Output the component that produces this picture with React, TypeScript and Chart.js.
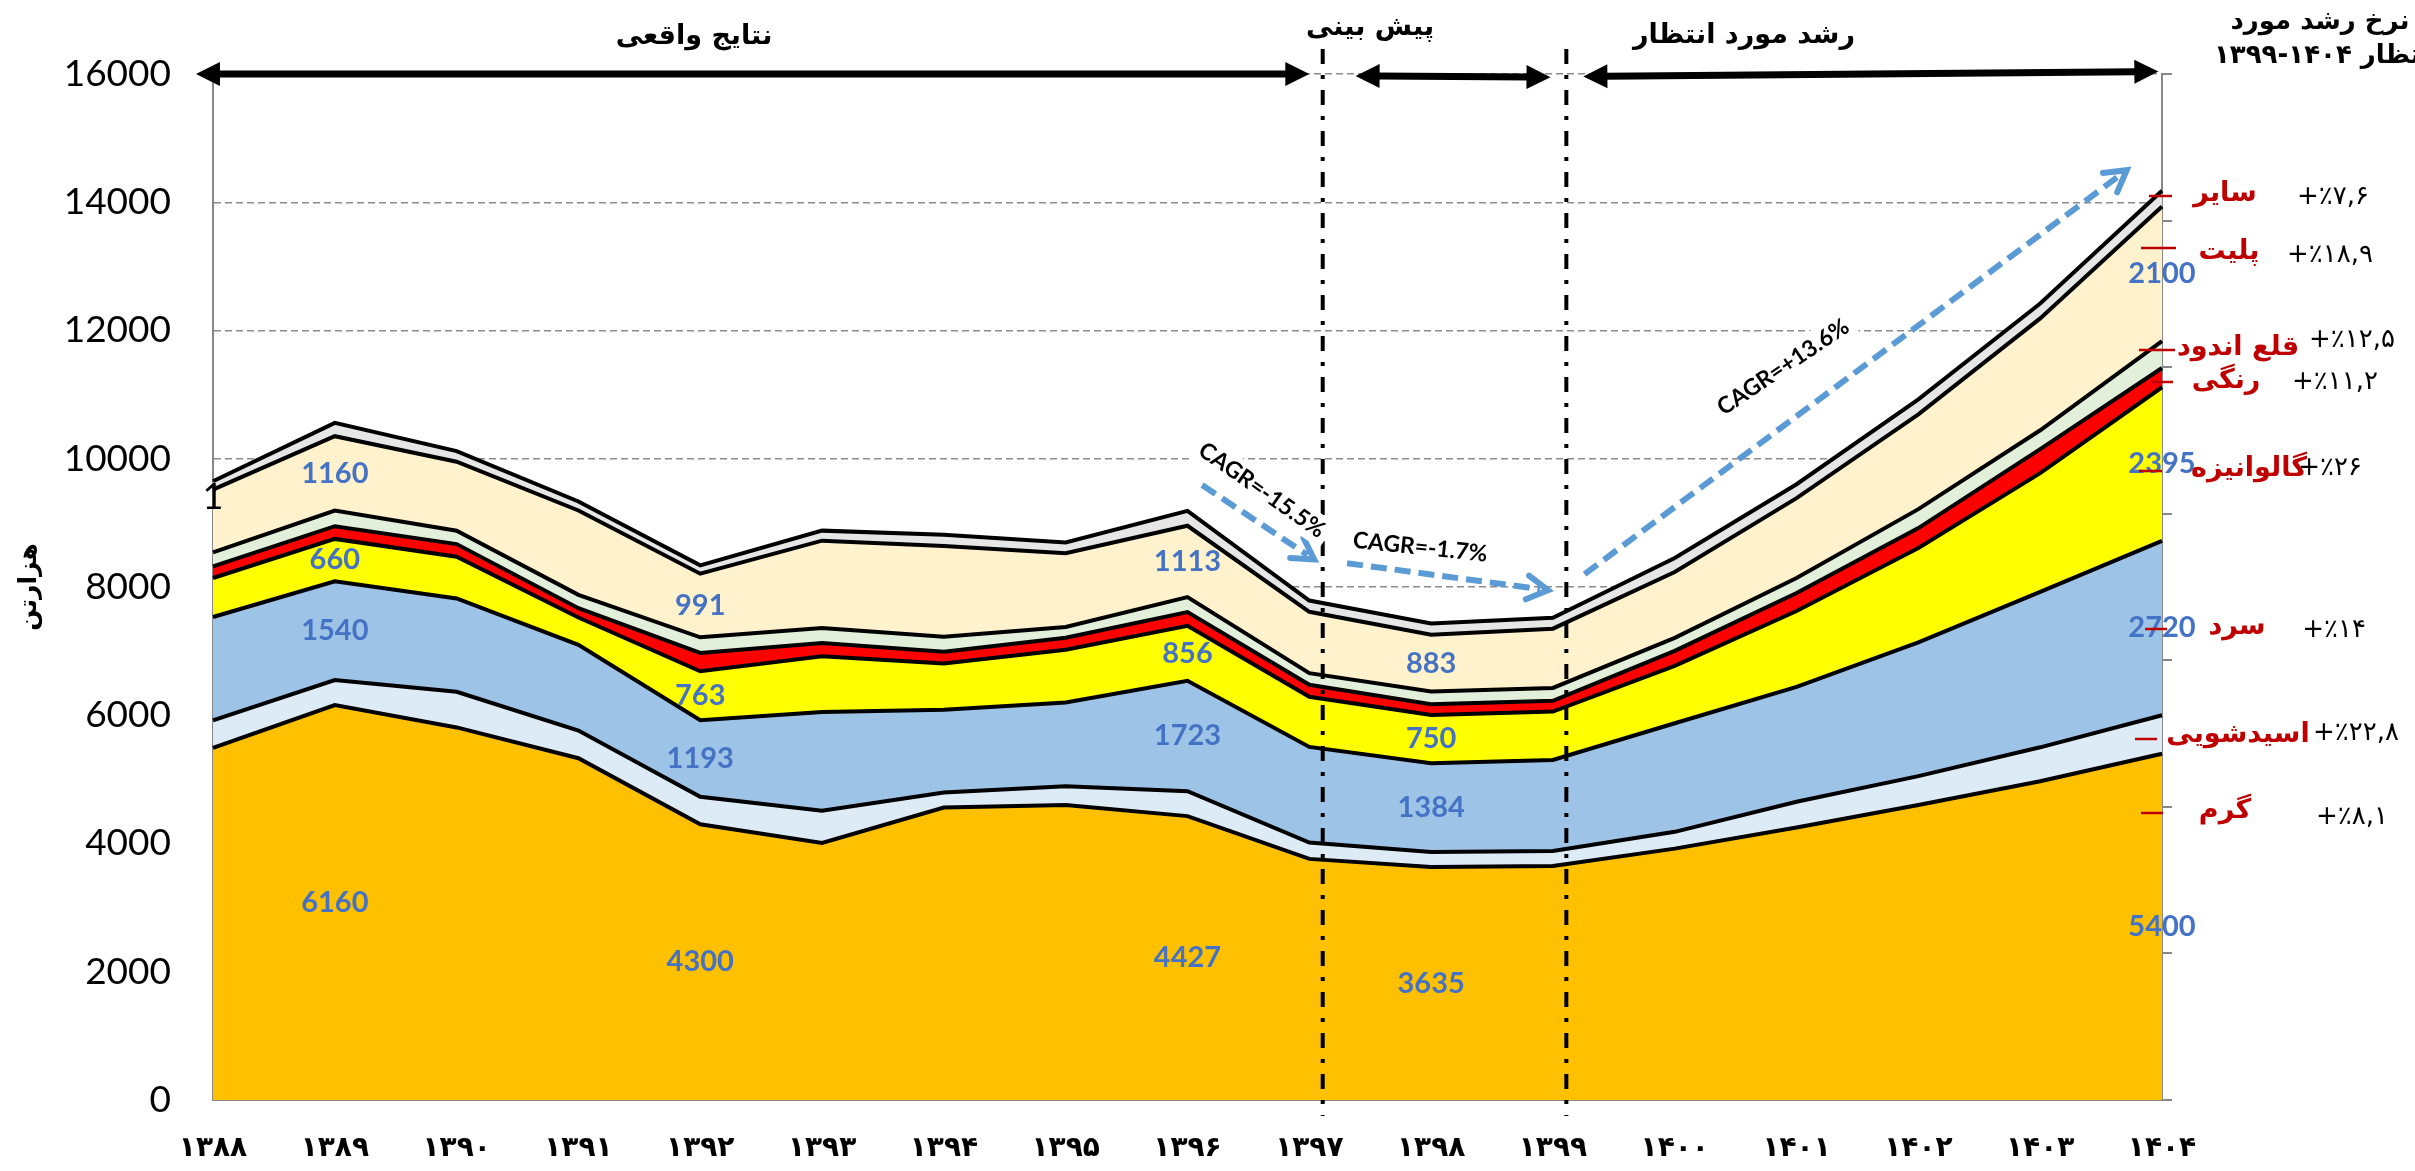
import React, { useEffect, useRef } from 'react';
import { Chart, registerables } from 'chart.js';

Chart.register(...registerables);

const W = 2415;
const H = 1171;

// ---------- data ----------
const years = ['۱۳۸۸', '۱۳۸۹', '۱۳۹۰', '۱۳۹۱', '۱۳۹۲', '۱۳۹۳', '۱۳۹۴', '۱۳۹۵', '۱۳۹۶', '۱۳۹۷', '۱۳۹۸', '۱۳۹۹', '۱۴۰۰', '۱۴۰۱', '۱۴۰۲', '۱۴۰۳', '۱۴۰۴'];
const hot = [5490, 6160, 5810, 5330, 4300, 4010, 4560, 4600, 4427, 3760, 3635, 3650, 3920, 4250, 4600, 4970, 5400];
const acid = [430, 390, 556, 432, 430, 500, 235, 294, 388, 254, 234, 234, 262, 400, 450, 530, 600];
const cold = [1612, 1540, 1455, 1336, 1193, 1540, 1291, 1305, 1723, 1492, 1384, 1418, 1693, 1792, 2086, 2424, 2720];
const galv = [608, 660, 650, 426, 763, 870, 722, 823, 856, 783, 750, 756, 896, 1184, 1471, 1851, 2395];
const colored = [182, 198, 198, 145, 286, 207, 181, 187, 214, 187, 167, 168, 234, 281, 311, 374, 300];
const tin = [218, 244, 208, 208, 244, 234, 234, 167, 234, 181, 201, 200, 202, 233, 296, 295, 420];
const plate = [978, 1160, 1076, 1316, 991, 1362, 1418, 1151, 1113, 956, 883, 924, 1027, 1245, 1479, 1744, 2100];
const other = [130, 208, 166, 140, 130, 156, 174, 167, 233, 176, 177, 171, 218, 218, 233, 233, 245];

const seriesNames = ['گرم', 'اسیدشویی', 'سرد', 'گالوانیزه', 'رنگی', 'قلع اندود', 'پلیت', 'سایر'];
const growthRates = ['+٪۸,۱', '+٪۲۲,۸', '+٪۱۴', '+٪۲۶', '+٪۱۱,۲', '+٪۱۲,۵', '+٪۱۸,۹', '+٪۷,۶'];
const fills = ['#FFC000', '#DDEBF7', '#9DC3E6', '#FFFF00', '#FF0000', '#E2EFDA', '#FFF2CC', '#E7E6E6'];

const yMin = 0;
const yMax = 16000;
const yStep = 2000;

const valueLabelYears = [1, 4, 8, 10, 16];
const valueLabelSeries = [0, 2, 3, 6];

const periodTitles = ['نتایج واقعی', 'پیش بینی', 'رشد مورد انتظار'];
const headerLine1 = 'نرخ رشد مورد';
const headerLine2 = '۱۳۹۹-۱۴۰۴ انتظار';
const yTitle = 'هزارتن';
const cagrTexts = ['CAGR=-15.5%', 'CAGR=-1.7%', 'CAGR=+13.6%'];

// ---------- layout of annotations (positions, not data) ----------
const dividerCats = [9.11, 11.11];
const periodArrows = [
  { c1: -0.14, v1: 16000, c2: 9.0, v2: 16000 },
  { c1: 9.38, v1: 15970, c2: 10.98, v2: 15950 },
  { c1: 11.25, v1: 15960, c2: 15.97, v2: 16040 },
];
const titlePos = [
  { x: 694, y: 37 },
  { x: 1370, y: 28 },
  { x: 1744, y: 36 },
];
const cagrArrows = [
  { from: [8.12, 9590], to: [9.04, 8430], at: [8.61, 9510], angle: 35 },
  { from: [9.31, 8370], to: [10.96, 7950], at: [9.91, 8620], angle: 6 },
  { from: [11.26, 8200], to: [15.71, 14500], at: [12.89, 11430], angle: -34 },
];
const legendLayout = [
  { s: 7, tickY: 196, tx1: 2149, tx2: 2172, lx: 2225, ly: 194, px: 2333, py: 197 },
  { s: 6, tickY: 248, tx1: 2141, tx2: 2176, lx: 2229, ly: 252, px: 2330, py: 255 },
  { s: 5, tickY: 350, tx1: 2139, tx2: 2175, lx: 2238, ly: 348, px: 2352, py: 340 },
  { s: 4, tickY: 382, tx1: 2152, tx2: 2173, lx: 2226, ly: 381, px: 2335, py: 382 },
  { s: 3, tickY: 471, tx1: 2139, tx2: 2162, lx: 2249, ly: 469, px: 2330, py: 468 },
  { s: 2, tickY: 629, tx1: 2145, tx2: 2167, lx: 2237, ly: 627, px: 2334, py: 630 },
  { s: 1, tickY: 739, tx1: 2135, tx2: 2157, lx: 2238, ly: 735, px: 2356, py: 733 },
  { s: 0, tickY: 813, tx1: 2141, tx2: 2163, lx: 2225, ly: 811, px: 2352, py: 817 },
];

const PERSIAN = '"DejaVu Sans", sans-serif';
const LATIN = 'Lato, "DejaVu Sans", sans-serif';

const series = [hot, acid, cold, galv, colored, tin, plate, other];

function blockArrow(ctx: CanvasRenderingContext2D, x1: number, y1: number, x2: number, y2: number) {
  const lw = 7, hl = 24, hw = 12;
  const a = Math.atan2(y2 - y1, x2 - x1);
  const cos = Math.cos(a), sin = Math.sin(a);
  ctx.save();
  ctx.strokeStyle = '#000';
  ctx.fillStyle = '#000';
  ctx.lineWidth = lw;
  ctx.beginPath();
  ctx.moveTo(x1 + cos * (hl - 2), y1 + sin * (hl - 2));
  ctx.lineTo(x2 - cos * (hl - 2), y2 - sin * (hl - 2));
  ctx.stroke();
  const head = (tx: number, ty: number, dir: number) => {
    const bx = tx - Math.cos(dir) * hl, by = ty - Math.sin(dir) * hl;
    ctx.beginPath();
    ctx.moveTo(tx, ty);
    ctx.lineTo(bx - Math.sin(dir) * hw, by + Math.cos(dir) * hw);
    ctx.lineTo(bx + Math.sin(dir) * hw, by - Math.cos(dir) * hw);
    ctx.closePath();
    ctx.fill();
  };
  head(x2, y2, a);
  head(x1, y1, a + Math.PI);
  ctx.restore();
}

function dashedArrow(ctx: CanvasRenderingContext2D, x1: number, y1: number, x2: number, y2: number) {
  const a = Math.atan2(y2 - y1, x2 - x1);
  ctx.save();
  ctx.strokeStyle = '#5B9BD5';
  ctx.lineWidth = 6;
  ctx.setLineDash([16, 8]);
  ctx.beginPath();
  ctx.moveTo(x1, y1);
  ctx.lineTo(x2 - Math.cos(a) * 8, y2 - Math.sin(a) * 8);
  ctx.stroke();
  ctx.setLineDash([]);
  ctx.lineCap = 'round';
  ctx.lineJoin = 'miter';
  const al = 24, sp = Math.PI / 6;
  ctx.beginPath();
  ctx.moveTo(x2 - Math.cos(a - sp) * al, y2 - Math.sin(a - sp) * al);
  ctx.lineTo(x2, y2);
  ctx.lineTo(x2 - Math.cos(a + sp) * al, y2 - Math.sin(a + sp) * al);
  ctx.stroke();
  ctx.restore();
}

const overlay = {
  id: 'overlay',
  afterDraw(chart: any) {
    const ctx: CanvasRenderingContext2D = chart.ctx;
    const xs = chart.scales.x;
    const ys = chart.scales.y;
    const X = (c: number) => xs.getPixelForValue(c);
    const Y = (v: number) => ys.getPixelForValue(v);
    const area = chart.chartArea;

    // dash-dot dividers
    ctx.save();
    ctx.strokeStyle = '#000';
    ctx.lineWidth = 4;
    ctx.setLineDash([15, 11, 4, 11]);
    for (const c of dividerCats) {
      const px = X(c);
      ctx.beginPath();
      ctx.moveTo(px, area.top - 25);
      ctx.lineTo(px, area.bottom + 16);
      ctx.stroke();
    }
    ctx.restore();

    // period arrows
    for (const p of periodArrows) blockArrow(ctx, X(p.c1), Y(p.v1), X(p.c2), Y(p.v2));

    // period titles
    ctx.save();
    ctx.fillStyle = '#000';
    ctx.font = `bold 27px ${PERSIAN}`;
    ctx.textAlign = 'center';
    ctx.textBaseline = 'middle';
    periodTitles.forEach((t, i) => ctx.fillText(t, titlePos[i].x, titlePos[i].y));
    // header (top right)
    ctx.font = `bold 26px ${PERSIAN}`;
    ctx.fillText(headerLine1, 2320, 22);
    ctx.direction = 'ltr';
    ctx.textAlign = 'left';
    ctx.fillText(headerLine2, 2214, 56);
    ctx.restore();

    // CAGR arrows and texts
    cagrArrows.forEach((c) => {
      dashedArrow(ctx, X(c.from[0]), Y(c.from[1]), X(c.to[0]), Y(c.to[1]));
    });
    cagrArrows.forEach((c, i) => {
      ctx.save();
      ctx.translate(X(c.at[0]), Y(c.at[1]));
      ctx.rotate((c.angle * Math.PI) / 180);
      ctx.font = `bold 23px ${LATIN}`;
      const w = ctx.measureText(cagrTexts[i]).width;
      ctx.fillStyle = '#fff';
      ctx.fillRect(-w / 2 - 6, -15, w + 12, 30);
      ctx.fillStyle = '#000';
      ctx.textAlign = 'center';
      ctx.textBaseline = 'middle';
      ctx.fillText(cagrTexts[i], 0, 0);
      ctx.restore();
    });

    // value labels in the middle of the layers
    ctx.save();
    ctx.font = `bold 29px ${LATIN}`;
    ctx.fillStyle = '#4472C4';
    ctx.textAlign = 'center';
    ctx.textBaseline = 'middle';
    for (const yi of valueLabelYears) {
      for (const si of valueLabelSeries) {
        let base = 0;
        for (let k = 0; k < si; k++) base += series[k][yi];
        const v = series[si][yi];
        ctx.fillText(String(v), X(yi), Y(base + v / 2));
      }
    }
    ctx.restore();

    // right-side legend with growth rates
    ctx.save();
    for (const l of legendLayout) {
      ctx.strokeStyle = '#C00000';
      ctx.lineWidth = 2.5;
      ctx.beginPath();
      ctx.moveTo(l.tx1, l.tickY);
      ctx.lineTo(l.tx2, l.tickY);
      ctx.stroke();
      ctx.fillStyle = '#C00000';
      ctx.font = `bold 27px ${PERSIAN}`;
      ctx.textAlign = 'center';
      ctx.textBaseline = 'middle';
      ctx.fillText(seriesNames[l.s], l.lx, l.ly);
      ctx.fillStyle = '#000';
      ctx.font = `26px ${PERSIAN}`;
      ctx.direction = 'ltr';
      ctx.fillText(growthRates[l.s], l.px, l.py);
    }
    ctx.restore();

    // y axis title
    ctx.save();
    ctx.translate(29, 587);
    ctx.rotate(-Math.PI / 2);
    ctx.fillStyle = '#000';
    ctx.font = `bold 25px ${PERSIAN}`;
    ctx.textAlign = 'center';
    ctx.textBaseline = 'middle';
    ctx.fillText(yTitle, 0, 0);
    ctx.restore();

    // stray mark next to the left axis
    ctx.save();
    ctx.fillStyle = '#000';
    ctx.font = `36px ${LATIN}`;
    ctx.textAlign = 'center';
    ctx.textBaseline = 'middle';
    ctx.fillText('1', area.left, 497);
    ctx.restore();
  },
};

export default function App() {
  const ref = useRef<HTMLCanvasElement>(null);
  useEffect(() => {
    document.body.style.margin = '0';
    document.body.style.overflow = 'hidden';
    const canvas = ref.current!;
    const chart = new Chart(canvas, {
      type: 'line',
      data: {
        labels: years,
        datasets: series.map((d, i) => ({
          label: seriesNames[i],
          data: d,
          backgroundColor: fills[i],
          borderColor: '#000',
          borderWidth: 4,
          fill: i === 0 ? 'origin' : '-1',
          pointRadius: 0,
          tension: 0,
        })),
      } as any,
      options: {
        responsive: false,
        animation: false,
        devicePixelRatio: 1,
        layout: { padding: { left: 0, right: 0, top: 74, bottom: 0 } },
        plugins: { legend: { display: false }, tooltip: { enabled: false } },
        scales: {
          x: {
            type: 'category',
            offset: false,
            grid: { display: false, drawTicks: false },
            border: { display: true, color: '#888', width: 2 },
            ticks: {
              autoSkip: false,
              maxRotation: 0,
              padding: 32,
              color: '#000',
              font: { family: PERSIAN, weight: 'bold', size: 28 },
            },
            afterFit: (s: any) => { s.height = 71; },
          },
          y: {
            stacked: true,
            min: yMin,
            max: yMax,
            grid: { color: '#8c8c8c', lineWidth: 1.5, drawTicks: false },
            border: { display: true, color: '#888', width: 2, dash: [7, 4] },
            ticks: {
              stepSize: yStep,
              padding: 42,
              color: '#000',
              font: { family: LATIN, size: 37 },
              callback: (v: any) => String(v),
            },
            afterFit: (s: any) => { s.width = 213; },
          },
          y2: {
            position: 'right',
            min: 0,
            max: 7,
            grid: { drawOnChartArea: false, drawTicks: true, tickLength: 10, color: '#888', lineWidth: 2 },
            border: { display: true, color: '#888', width: 2 },
            ticks: { display: false, stepSize: 1 },
            afterFit: (s: any) => { s.width = W - 2162; },
          },
        },
      } as any,
      plugins: [overlay],
    });
    return () => chart.destroy();
  }, []);
  return (
    <div style={{ width: W, height: H }}>
      <canvas ref={ref} width={W} height={H} style={{ display: 'block', width: W, height: H }} />
    </div>
  );
}
